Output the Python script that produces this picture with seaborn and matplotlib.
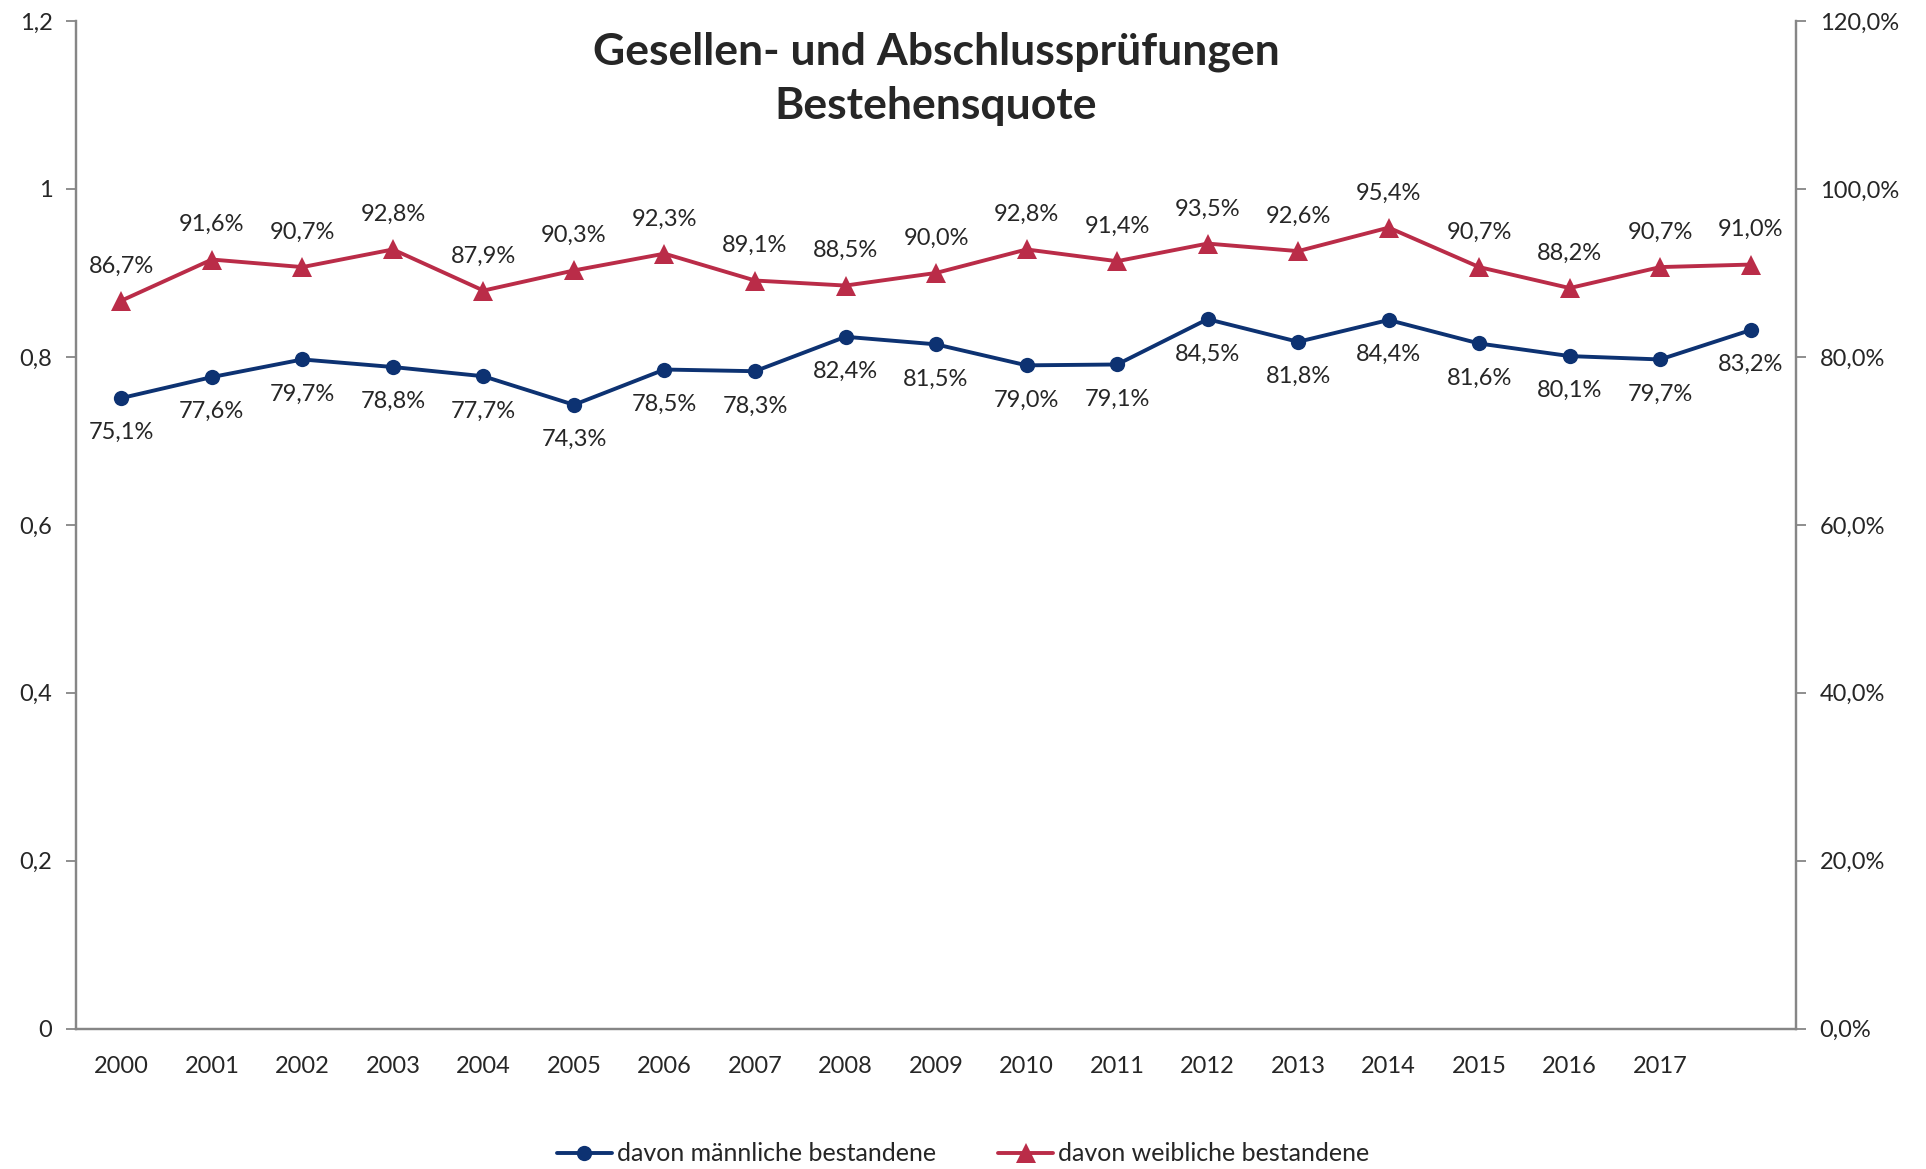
import matplotlib
matplotlib.use("Agg")
import matplotlib.pyplot as plt
import seaborn as sns
import pandas as pd
from matplotlib.ticker import FuncFormatter

years = [str(y) for y in range(2000, 2019)]
tick_labels = [str(y) for y in range(2000, 2018)] + [""]
maennlich = [75.1, 77.6, 79.7, 78.8, 77.7, 74.3, 78.5, 78.3, 82.4, 81.5,
             79.0, 79.1, 84.5, 81.8, 84.4, 81.6, 80.1, 79.7, 83.2]
weiblich = [86.7, 91.6, 90.7, 92.8, 87.9, 90.3, 92.3, 89.1, 88.5, 90.0,
            92.8, 91.4, 93.5, 92.6, 95.4, 90.7, 88.2, 90.7, 91.0]

name_m = "davon männliche bestandene"
name_w = "davon weibliche bestandene"
col_m = "#0D3272"
col_w = "#BA2C48"
grey = "#868686"

df = pd.DataFrame({
    "pos": list(range(len(years))) * 2,
    "wert": [v / 100 for v in maennlich] + [v / 100 for v in weiblich],
    "serie": [name_m] * len(years) + [name_w] * len(years),
})

sns.set_style("white")
plt.rcParams["font.family"] = ["Lato", "DejaVu Sans"]

fig = plt.figure(figsize=(19.26, 11.69), dpi=100)
ax = fig.add_axes([0.0395, 0.12, 0.893, 0.862])

sns.lineplot(data=df, x="pos", y="wert", hue="serie", style="serie",
             palette={name_m: col_m, name_w: col_w},
             markers={name_m: "o", name_w: "^"}, dashes=False,
             markersize=11, markeredgewidth=0, linewidth=2.8, ax=ax)
for ln in ax.lines:
    if ln.get_marker() == "^":
        ln.set_markersize(14)

for i, (m, w) in enumerate(zip(maennlich, weiblich)):
    ax.annotate(f"{m:.1f}%".replace(".", ","), (i, m / 100), xytext=(0, -25),
                textcoords="offset points", ha="center", va="center", fontsize=17)
    ax.annotate(f"{w:.1f}%".replace(".", ","), (i, w / 100), xytext=(0, 25),
                textcoords="offset points", ha="center", va="center", fontsize=17)

ax.set_xlim(-0.5, len(years) - 0.5)
ax.set_ylim(0, 1.2)
ax.set_yticks([0, 0.2, 0.4, 0.6, 0.8, 1.0, 1.2])
ax.yaxis.set_major_formatter(FuncFormatter(lambda v, p: f"{v:g}".replace(".", ",")))
ax.set_xticks([i - 0.5 for i in range(len(years) + 1)])
ax.set_xticklabels([])
ax.set_xticks(range(len(years)), minor=True)
ax.set_xticklabels(tick_labels, minor=True)
ax.tick_params(axis="x", which="major", length=7, width=1.3, color=grey, direction="out")
ax.tick_params(axis="x", which="minor", length=0, pad=20, labelsize=17)
ax.tick_params(axis="y", length=7, width=1.3, color=grey, direction="out", labelsize=17, pad=10)
ax.set_xlabel("")
ax.set_ylabel("")

ax2 = ax.twinx()
ax2.set_ylim(0, 1.2)
ax2.set_yticks([0, 0.2, 0.4, 0.6, 0.8, 1.0, 1.2])
ax2.yaxis.set_major_formatter(FuncFormatter(lambda v, p: f"{v * 100:.1f}%".replace(".", ",")))
ax2.tick_params(axis="y", length=7, width=1.3, color=grey, direction="out", labelsize=17, pad=10)

for a in (ax, ax2):
    a.spines["top"].set_visible(False)
    for s in ("left", "right", "bottom"):
        a.spines[s].set_color(grey)
        a.spines[s].set_linewidth(1.6)

ax.text(0.5, 0.99, "Gesellen- und Abschlussprüfungen\nBestehensquote",
        transform=ax.transAxes, ha="center", va="top", fontsize=32,
        fontweight="bold", linespacing=1.45)

handles, labels = ax.get_legend_handles_labels()
ax.legend_.remove()
fig.legend(handles, labels, loc="center", bbox_to_anchor=(0.5, 0.013), ncol=2,
           frameon=False, fontsize=18, handlelength=2.2, columnspacing=2.5,
           handletextpad=0.2, borderpad=0)

fig.savefig("out.png", dpi=100)
